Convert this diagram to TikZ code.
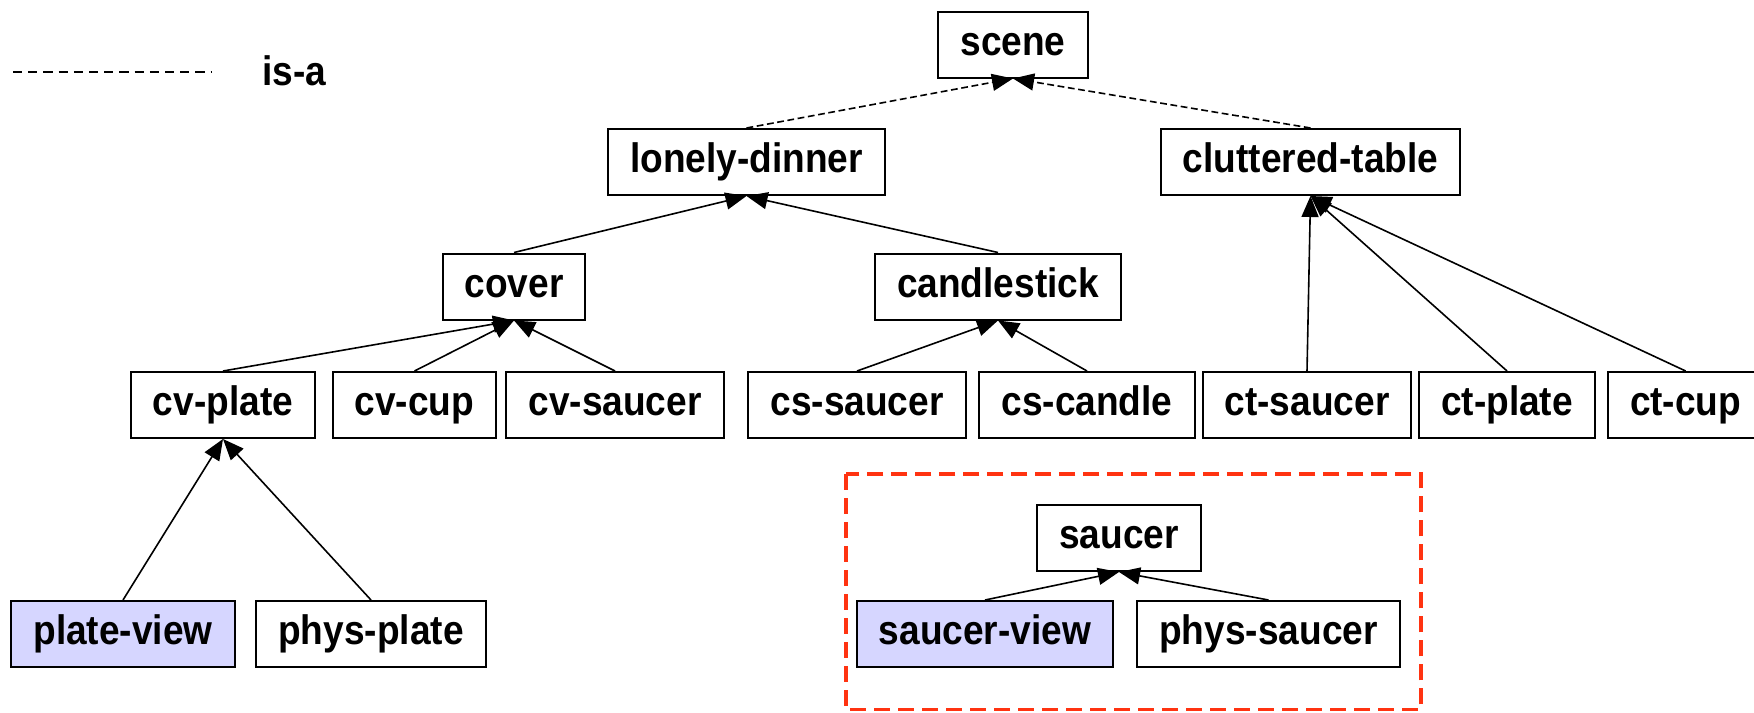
\documentclass[tikz,border=0pt]{standalone}
\usepackage{fontspec}
\setmainfont{Liberation Sans}[FakeStretch=0.9]
\usetikzlibrary{arrows.meta}
\definecolor{viewfill}{RGB}{214,214,255}
\definecolor{groupred}{RGB}{255,51,17}
\begin{document}
\begin{tikzpicture}[x=0.5pt,y=-0.5pt,
  lbl/.style={font=\fontsize{20.6pt}{24pt}\selectfont\bfseries},
  cls/.style={lbl, draw, line width=1pt, minimum height=33pt, inner xsep=11pt, inner ysep=0pt,
              text height=14.9pt, text depth=4.3pt},
  view/.style={cls, fill=viewfill},
  isa/.style={line width=0.8pt, -{Triangle[length=10.5pt,width=8.5pt]}},
  isadash/.style={isa, dash pattern=on 3.4pt off 1.8pt},
]
\useasboundingbox (0,0) rectangle (1754,712);

% legend
\coordinate (lg0) at (13,72);
\coordinate (lg1) at (212,72);
\draw[line width=0.8pt, dash pattern=on 4.6pt off 3pt] (lg0) -- (lg1);
\node[lbl, anchor=base, inner sep=0pt] (legend) at (294.5,85) {is-a};

% top levels
\node[cls] (scene) at (1013,44.5) {scene};
\node[cls] (lonely) at (746.5,162) {lonely-dinner};
\node[cls] (cluttered) at (1310.5,162) {cluttered-table};
\node[cls] (cover) at (514,286.5) {cover};
\node[cls] (candle) at (998,286.5) {candlestick};

% parts
\node[cls] (cvplate) at (223,405) {cv-plate};
\node[cls] (cvcup) at (414.5,405) {cv-cup};
\node[cls] (cvsaucer) at (615,405) {cv-saucer};
\node[cls] (cssaucer) at (857,405) {cs-saucer};
\node[cls] (cscandle) at (1087,405) {cs-candle};
\node[cls] (ctsaucer) at (1307,405) {ct-saucer};
\node[cls] (ctplate) at (1507,405) {ct-plate};
\node[cls, anchor=west] (ctcup) at (1607,405) {ct-cup};

% plate views
\node[view] (plateview) at (123,634) {plate-view};
\node[cls] (physplate) at (371,634) {phys-plate};

% saucer group
\draw[groupred, line width=1.8pt, dash pattern=on 8pt off 4pt] (845.7,474) rectangle (1421,709.5);
\node[cls] (saucer) at (1119,538) {saucer};
\node[view] (saucerview) at (985,634) {saucer-view};
\node[cls] (physsaucer) at (1268.5,634) {phys-saucer};

% is-a links
\draw[isadash] (lonely.north) -- (scene.south);
\draw[isadash] (cluttered.north) -- (scene.south);
\draw[isa] (cover.north) -- (lonely.south);
\draw[isa] (candle.north) -- (lonely.south);
\draw[isa] (cvplate.north) -- (cover.south);
\draw[isa] (cvcup.north) -- (cover.south);
\draw[isa] (cvsaucer.north) -- (cover.south);
\draw[isa] (cssaucer.north) -- (candle.south);
\draw[isa] (cscandle.north) -- (candle.south);
\draw[isa] (ctsaucer.north) -- (cluttered.south);
\draw[isa] (ctplate.north) -- (cluttered.south);
\draw[isa] (ctcup.north) -- (cluttered.south);
\draw[isa] (plateview.north) -- (cvplate.south);
\draw[isa] (physplate.north) -- (cvplate.south);
\draw[isa] (saucerview.north) -- (saucer.south);
\draw[isa] (physsaucer.north) -- (saucer.south);
\end{tikzpicture}
\end{document}
